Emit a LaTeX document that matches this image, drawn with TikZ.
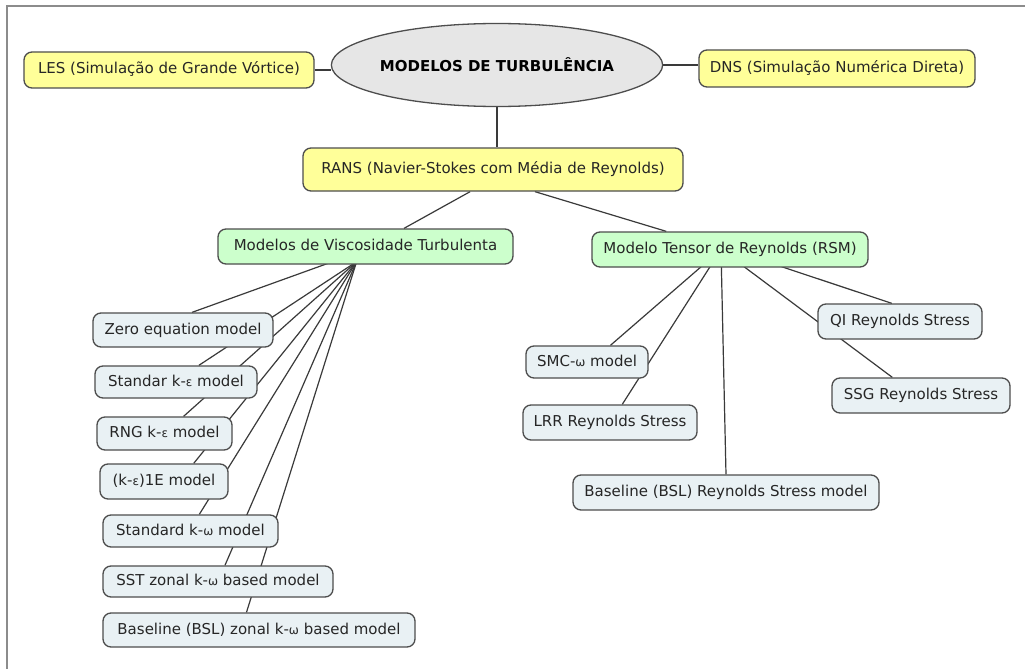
\documentclass[tikz,border=0pt]{standalone}
\usepackage{fontspec}
\setmainfont{DejaVu Sans}
\usetikzlibrary{shapes.geometric,calc,backgrounds}
\definecolor{yel}{HTML}{FFFF99}
\definecolor{grn}{HTML}{CCFFCC}
\definecolor{blu}{HTML}{E9F1F4}
\definecolor{ellc}{HTML}{E6E6E6}
\definecolor{bord}{HTML}{4D4D4D}
\definecolor{txt}{HTML}{262626}
\definecolor{lin}{HTML}{3A3A3A}
\definecolor{framec}{HTML}{8C8C8C}
\newcommand{\gk}[1]{{\fontsize{12pt}{14pt}\selectfont #1}}
\begin{document}
\begin{tikzpicture}[x=1pt,y=-1pt,
 box/.style={draw=bord,line width=1.3pt,rounded corners=8pt,inner sep=0pt,text=txt,
   font=\fontsize{15pt}{18pt}\selectfont,text height=11pt,text depth=3pt},
 ybox/.style={box,fill=yel},
 gbox/.style={box,fill=grn},
 bbox/.style={box,fill=blu},
 link/.style={draw=lin,line width=1.2pt}]
\useasboundingbox (0,0) rectangle (1034,669);
\node[ellipse,draw=bord,line width=1.3pt,fill=ellc,minimum width=261pt,minimum height=83pt,inner sep=0pt,text=black,font=\fontsize{15pt}{18pt}\selectfont\bfseries] (top) at (497,65) {MODELOS DE TURBULÊNCIA};
\node[ybox,minimum width=290pt,minimum height=36pt] (les) at (169,70) {LES (Simulação de Grande Vórtice)};
\node[ybox,minimum width=276pt,minimum height=37pt] (dns) at (837,68.5) {DNS (Simulação Numérica Direta)};
\node[ybox,minimum width=380pt,minimum height=43pt] (rans) at (493,169.5) {RANS (Navier-Stokes com Média de Reynolds)};
\node[gbox,minimum width=295pt,minimum height=35pt] (vis) at (365.5,246.5) {Modelos de Viscosidade Turbulenta};
\node[gbox,minimum width=276pt,minimum height=35pt] (rsm) at (730,249.5) {Modelo Tensor de Reynolds (RSM)};
\node[bbox,minimum width=180pt,minimum height=34pt] (zero) at (183,330) {Zero equation model};
\node[bbox,minimum width=162pt,minimum height=32pt] (stdke) at (176,382) {Standar k-\gk{ε} model};
\node[bbox,minimum width=135pt,minimum height=33pt] (rng) at (164.5,433.5) {RNG k-\gk{ε} model};
\node[bbox,minimum width=128pt,minimum height=35pt] (onee) at (164,481.5) {(k-\gk{ε})1E model};
\node[bbox,minimum width=175pt,minimum height=32pt] (stdkw) at (190.5,531) {Standard k-\gk{ω} model};
\node[bbox,minimum width=230pt,minimum height=31pt] (sst) at (218,581.5) {SST zonal k-\gk{ω} based model};
\node[bbox,minimum width=312pt,minimum height=34pt] (bslz) at (259,630) {Baseline (BSL) zonal k-\gk{ω} based model};
\node[bbox,minimum width=122pt,minimum height=32pt] (smc) at (587,362) {SMC-\gk{ω} model};
\node[bbox,minimum width=174pt,minimum height=35pt] (lrr) at (610,422.5) {LRR Reynolds Stress};
\node[bbox,minimum width=306pt,minimum height=35pt] (bslr) at (726,492.5) {Baseline (BSL) Reynolds Stress model};
\node[bbox,minimum width=164pt,minimum height=35pt] (qi) at (900,321.5) {QI Reynolds Stress};
\node[bbox,minimum width=178pt,minimum height=35pt] (ssg) at (921,395.5) {SSG Reynolds Stress};
\begin{scope}[on background layer]
\fill[white] (0,0) rectangle (1034,669);
\draw[draw=framec,line width=2pt] (7,669) -- (7,6) -- (1025,6);
\coordinate (vs) at ($(vis.south west)!0.47!(vis.south east)+(0,-3)$);
\coordinate (vz) at ($(vis.south west)!0.38!(vis.south east)+(0,-2)$);
\coordinate (rs) at ($(rsm.center)+(-9,0)$);
\draw[link] (les.east) -- (les.east -| top.west);
\draw[link] (top.east) -- (top.east -| dns.west);
\draw[link] (top.south) -- (top.south |- rans.north);
\draw[link] ($(rans.south west)!0.44!(rans.south east)$) -- ($(vis.north west)!0.63!(vis.north east)$);
\draw[link] ($(rans.south west)!0.61!(rans.south east)$) -- ($(rsm.north west)!0.27!(rsm.north east)$);
\draw[link] (vz) -- ($(zero.north west)!0.55!(zero.north east)$);
\draw[link] (vs) -- ($(stdke.north west)!0.64!(stdke.north east)$);
\draw[link] (vs) -- ($(rng.north west)!0.64!(rng.north east)$);
\draw[link] (vs) -- ($(onee.north west)!0.73!(onee.north east)$);
\draw[link] (vs) -- ($(stdkw.north west)!0.55!(stdkw.north east)$);
\draw[link] (vs) -- ($(sst.north west)!0.53!(sst.north east)$);
\draw[link] (vs) -- ($(bslz.north west)!0.46!(bslz.north east)$);
\draw[link] (rs) -- ($(smc.north west)!0.69!(smc.north east)$);
\draw[link] (rs) -- ($(lrr.north west)!0.57!(lrr.north east)$);
\draw[link] (rs) -- (bslr.north);
\draw[link] (rs) -- ($(ssg.north west)!0.34!(ssg.north east)$);
\draw[link] (rsm.center) -- ($(qi.north west)!0.45!(qi.north east)$);
\end{scope}
\end{tikzpicture}
\end{document}
